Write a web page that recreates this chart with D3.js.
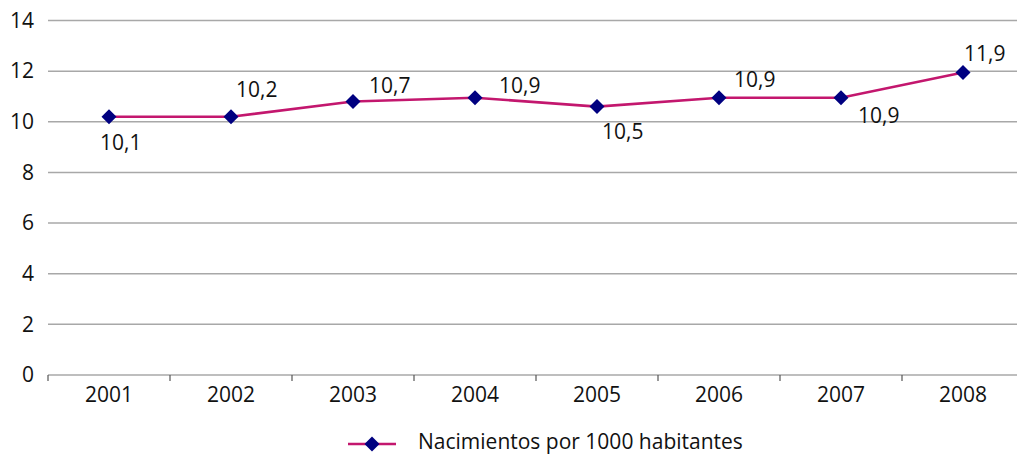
<!DOCTYPE html>
<html>
<head>
<meta charset="utf-8">
<script src="https://cdn.jsdelivr.net/npm/d3@7"></script>
<style>
  body { margin: 0; background: #fff; }
  svg { display: block; font-family: "Open Sans", sans-serif; }
</style>
</head>
<body>
<svg width="1017" height="455"></svg>
<script>
// data
const years = ["2001", "2002", "2003", "2004", "2005", "2006", "2007", "2008"];
const births = [10.2, 10.2, 10.8, 10.95, 10.6, 10.95, 10.95, 11.95];
const labels = ["10,1", "10,2", "10,7", "10,9", "10,5", "10,9", "10,9", "11,9"];
const yTicks = [0, 2, 4, 6, 8, 10, 12, 14];
const seriesName = "Nacimientos por 1000 habitantes";

const svg = d3.select("svg");
const plotLeft = 48, plotRight = 1024, plotTop = 20.5, plotBottom = 375;
const fontSize = 21;

const x = d3.scaleBand().domain(years).range([plotLeft, plotRight]);
const y = d3.scaleLinear().domain([0, 14]).range([plotBottom, plotTop]);

const lineColor = "#c3176e";
const markColor = "#000080";
const gridColor = "#a8a8a8";

// gridlines
svg.append("g")
  .selectAll("line")
  .data(yTicks.filter((d) => d > 0))
  .enter()
  .append("line")
  .attr("x1", plotLeft)
  .attr("x2", plotRight)
  .attr("y1", (d) => y(d))
  .attr("y2", (d) => y(d))
  .attr("stroke", gridColor)
  .attr("stroke-width", 1.5);

// y axis labels
const yAxis = svg.append("g")
  .attr("transform", `translate(${plotLeft},0)`)
  .call(d3.axisLeft(y).tickValues(yTicks).tickSize(0).tickPadding(14));
yAxis.select(".domain").remove();
yAxis.selectAll("text")
  .attr("font-size", fontSize)
  .attr("font-family", "Open Sans, sans-serif")
  .attr("fill", "#111");

// x axis: ticks at band boundaries
const xAxis = svg.append("g").attr("transform", `translate(0,${plotBottom})`);
xAxis.append("line")
  .attr("x1", plotLeft).attr("x2", plotRight)
  .attr("stroke", gridColor).attr("stroke-width", 1.5);
xAxis.selectAll(".tick-mark")
  .data(years)
  .enter()
  .append("line")
  .attr("class", "tick-mark")
  .attr("x1", (d) => x(d)).attr("x2", (d) => x(d))
  .attr("y1", 0).attr("y2", 6)
  .attr("stroke", "#555").attr("stroke-width", 1.2);
xAxis.selectAll("text")
  .data(years)
  .enter()
  .append("text")
  .attr("x", (d) => x(d) + x.bandwidth() / 2)
  .attr("y", 27)
  .attr("text-anchor", "middle")
  .attr("font-size", fontSize)
  .attr("fill", "#111")
  .text((d) => d);

// series line
const cx = (d, i) => x(years[i]) + x.bandwidth() / 2;
const line = d3.line()
  .x((d, i) => cx(d, i))
  .y((d) => y(d));

svg.append("path")
  .datum(births)
  .attr("d", line)
  .attr("fill", "none")
  .attr("stroke", lineColor)
  .attr("stroke-width", 2.6);

// diamond markers
const diamond = "M0,-7.5L7.5,0L0,7.5L-7.5,0Z";
svg.append("g")
  .selectAll("path")
  .data(births)
  .enter()
  .append("path")
  .attr("d", diamond)
  .attr("transform", (d, i) => `translate(${cx(d, i)},${y(d)})`)
  .attr("fill", markColor);

// data labels (offsets as placed in the original)
const labelOffsets = [
  [-9, 33], [5, -20], [16, -9], [24, -5], [5, 32], [15, -11], [17, 25], [1, -11],
];
svg.append("g")
  .selectAll("text")
  .data(births)
  .enter()
  .append("text")
  .attr("x", (d, i) => cx(d, i) + labelOffsets[i][0])
  .attr("y", (d, i) => y(d) + labelOffsets[i][1])
  .attr("font-size", fontSize)
  .attr("fill", "#111")
  .text((d, i) => labels[i]);

// legend
const legend = svg.append("g").attr("transform", "translate(348,444)");
legend.append("line")
  .attr("x1", 0).attr("x2", 48)
  .attr("stroke", lineColor).attr("stroke-width", 2.6);
legend.append("path")
  .attr("d", diamond)
  .attr("transform", "translate(24,0)")
  .attr("fill", markColor);
legend.append("text")
  .attr("x", 70)
  .attr("y", 5)
  .attr("font-size", fontSize)
  .attr("fill", "#111")
  .text(seriesName);
</script>
</body>
</html>
